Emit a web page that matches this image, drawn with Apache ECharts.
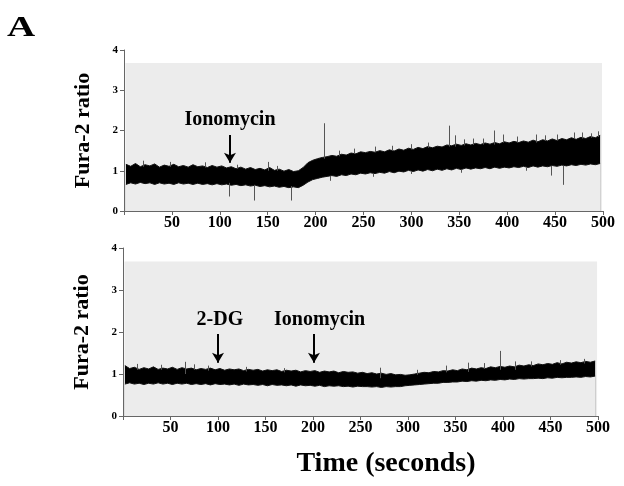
<!DOCTYPE html>
<html><head><meta charset="utf-8">
<script src="https://cdn.jsdelivr.net/npm/echarts@6/dist/echarts.min.js"></script>
<style>html,body{margin:0;padding:0;background:#fff}#c{width:624px;height:486px}</style>
</head><body><div id="c"></div>
<script>
// time grid (seconds)
var times = [2,7,12,17,22,27,32,37,42,47,52,57,62,67,72,77,82,87,92,97,102,107,112,117,122,127,132,137,142,147,152,157,162,167,172,177,182,187,192,197,202,207,212,217,222,227,232,237,242,247,252,257,262,267,272,277,282,287,292,297,302,307,312,317,322,327,332,337,342,347,352,357,362,367,372,377,382,387,392,397,402,407,412,417,422,427,432,437,442,447,452,457,462,467,472,477,482,487,492,497];
// Panel 1 (Ionomycin) upper / lower envelope of the trace
var topUpper = [1.16,1.11,1.18,1.10,1.15,1.12,1.17,1.09,1.14,1.11,1.16,1.10,1.13,1.09,1.15,1.10,1.12,1.08,1.13,1.09,1.12,1.07,1.10,1.05,1.09,1.04,1.08,1.03,1.06,1.02,1.08,1.01,1.04,0.99,1.03,0.98,1.00,1.08,1.20,1.26,1.30,1.33,1.35,1.38,1.36,1.41,1.39,1.44,1.42,1.47,1.45,1.48,1.46,1.50,1.47,1.52,1.49,1.54,1.51,1.56,1.53,1.58,1.55,1.60,1.57,1.61,1.59,1.64,1.62,1.66,1.63,1.67,1.64,1.68,1.65,1.69,1.66,1.70,1.67,1.72,1.69,1.73,1.70,1.74,1.71,1.76,1.72,1.77,1.74,1.79,1.75,1.80,1.77,1.82,1.78,1.83,1.80,1.85,1.82,1.88];
var topLower = [0.66,0.70,0.67,0.71,0.68,0.70,0.66,0.70,0.67,0.69,0.66,0.70,0.67,0.69,0.66,0.69,0.66,0.68,0.65,0.68,0.65,0.67,0.64,0.66,0.63,0.65,0.62,0.64,0.61,0.63,0.60,0.62,0.59,0.61,0.58,0.60,0.58,0.64,0.72,0.78,0.81,0.84,0.86,0.88,0.86,0.90,0.88,0.92,0.90,0.94,0.92,0.95,0.93,0.96,0.94,0.98,0.95,0.99,0.97,1.01,0.98,1.02,0.99,1.03,1.00,1.04,1.01,1.05,1.02,1.06,1.03,1.07,1.04,1.07,1.05,1.08,1.05,1.09,1.06,1.09,1.07,1.10,1.08,1.11,1.08,1.12,1.09,1.12,1.10,1.13,1.11,1.14,1.12,1.15,1.13,1.16,1.14,1.17,1.15,1.18];
// Panel 1 spikes and hairs: [time, from, to]
var topSpikes = [[151,1.0,1.22],[209,1.3,2.18],[339,1.6,2.12],[386,1.65,2.0],[346,1.6,1.88],[396,1.7,1.90],[430,1.7,1.90],[470,1.8,1.95],[110,0.7,0.36],[136,0.65,0.26],[175,0.62,0.26],[446,1.12,0.88],[459,1.13,0.65],
  [20,1.1,1.25],[48,1.1,1.22],[85,1.08,1.21],[118,1.05,1.15],[160,1.0,1.12],[225,1.36,1.50],[240,1.42,1.55],[262,1.46,1.60],[280,1.49,1.62],[300,1.53,1.66],[318,1.57,1.70],[355,1.63,1.78],[365,1.64,1.80],[375,1.65,1.80],[410,1.70,1.85],[440,1.74,1.88],[452,1.75,1.90],[478,1.80,1.95],[488,1.82,1.93],[495,1.84,1.98],
  [215,0.87,0.75],[260,0.93,0.85],[300,0.99,0.92],[352,1.03,0.95],[420,1.08,1.00]];
// Panel 2 (2-DG then Ionomycin) upper / lower envelope
var botUpper = [1.20,1.13,1.16,1.11,1.15,1.12,1.17,1.11,1.14,1.12,1.16,1.11,1.15,1.12,1.14,1.10,1.13,1.11,1.14,1.10,1.13,1.09,1.12,1.10,1.12,1.08,1.11,1.09,1.11,1.07,1.10,1.08,1.10,1.06,1.09,1.07,1.09,1.05,1.08,1.06,1.08,1.04,1.07,1.05,1.07,1.03,1.06,1.04,1.05,1.02,1.04,1.01,1.03,1.00,1.02,0.99,1.01,0.98,0.99,0.97,0.98,1.00,1.02,1.04,1.03,1.06,1.05,1.08,1.07,1.10,1.08,1.12,1.10,1.14,1.12,1.15,1.13,1.17,1.15,1.18,1.16,1.19,1.17,1.21,1.19,1.22,1.20,1.24,1.22,1.25,1.23,1.27,1.24,1.28,1.26,1.29,1.27,1.30,1.28,1.31];
var botLower = [0.76,0.79,0.76,0.78,0.75,0.78,0.76,0.79,0.76,0.78,0.75,0.78,0.76,0.78,0.75,0.77,0.75,0.77,0.74,0.77,0.75,0.76,0.74,0.76,0.73,0.76,0.74,0.75,0.73,0.75,0.72,0.75,0.73,0.74,0.72,0.74,0.71,0.74,0.72,0.73,0.71,0.73,0.70,0.72,0.71,0.72,0.70,0.71,0.69,0.71,0.70,0.70,0.69,0.70,0.68,0.70,0.69,0.70,0.70,0.72,0.73,0.74,0.75,0.76,0.77,0.78,0.78,0.80,0.80,0.81,0.81,0.83,0.82,0.84,0.83,0.85,0.84,0.86,0.85,0.87,0.86,0.88,0.87,0.89,0.88,0.89,0.89,0.90,0.89,0.91,0.90,0.92,0.91,0.92,0.92,0.93,0.92,0.94,0.93,0.95];
var botSpikes = [[65,1.0,1.29],[271,0.9,1.15],[363,1.05,1.27],[397,1.1,1.55],[413,1.1,1.30],
  [15,1.1,1.24],[40,1.1,1.22],[75,1.1,1.23],[90,1.08,1.20],[130,1.06,1.17],[170,1.04,1.14],[310,0.98,1.10],[340,1.04,1.20],[380,1.12,1.26],[430,1.18,1.30],[460,1.22,1.33],[485,1.25,1.36]];
// annotations: [label, arrow time, label time]
var topNotes = [["Ionomycin",110.6,110.6]];
var botNotes = [["2-DG",100,102],["Ionomycin",201,207]];
var yTicks = [0,1,2,3,4];
var xTicks = [50,100,150,200,250,300,350,400,450,500];

var serif = "'Liberation Serif','DejaVu Serif',serif";
var BG = '#ececec';
function pairs(a){return times.map(function(t,i){return [t,a[i]];});}

function panelSeries(idx, upper, lower, spikes, notes, arrowTop, arrowBot, labelY){
  var s = [];
  s.push({type:'line',xAxisIndex:idx,yAxisIndex:idx,data:[],silent:true,z:1,
    markArea:{silent:true,itemStyle:{color:BG},data:[[{coord:[1.5,0]},{coord:[499,3.68]}]]}});
  s.push({type:'line',xAxisIndex:idx,yAxisIndex:idx,data:pairs(upper),symbol:'none',
    lineStyle:{width:1,color:'#111'},areaStyle:{color:'#000',opacity:1,origin:'start'},z:2,silent:true});
  s.push({type:'line',xAxisIndex:idx,yAxisIndex:idx,data:pairs(lower),symbol:'none',
    lineStyle:{width:1,color:'#111'},areaStyle:{color:BG,opacity:1,origin:'start'},z:3,silent:true});
  var ml = spikes.map(function(p){return [{coord:[p[0],p[1]]},{coord:[p[0],p[2]]}];});
  notes.forEach(function(n){
    ml.push([{coord:[n[1],arrowTop],symbol:'none',lineStyle:{width:2,color:'#000'}},
             {coord:[n[1],arrowBot],symbol:'arrow',symbolSize:[9,10]}]);
  });
  s.push({type:'line',xAxisIndex:idx,yAxisIndex:idx,data:[],z:4,silent:true,
    markLine:{silent:true,symbol:'none',label:{show:false},lineStyle:{type:'solid',color:'#555',width:1},data:ml},
    markPoint:{silent:true,symbol:'circle',symbolSize:0,
      label:{show:true,position:'inside',color:'#000',fontFamily:serif,fontWeight:'bold',fontSize:20},
      data:notes.map(function(n){return {coord:[n[2],labelY],value:n[0],label:{formatter:n[0]}};})}
  });
  return s;
}

var chart = echarts.init(document.getElementById('c'));
function xAx(idx){return {type:'value',gridIndex:idx,min:0,max:500,interval:50,
  axisLine:{lineStyle:{color:'#666',width:1}},axisTick:{length:4,lineStyle:{color:'#666'}},
  splitLine:{show:false},
  axisLabel:{margin:4,color:'#000',fontFamily:serif,fontWeight:'bold',fontSize:16,
    formatter:function(v){return xTicks.indexOf(v)>=0?String(v):'';}}};}
function yAx(idx){return {type:'value',gridIndex:idx,min:0,max:4,interval:1,
  name:'Fura-2 ratio',nameLocation:'middle',nameGap:30,nameRotate:90,
  nameTextStyle:{color:'#000',fontFamily:serif,fontWeight:'bold',fontSize:22},
  axisLine:{show:true,lineStyle:{color:'#666',width:1}},axisTick:{show:true,length:4,lineStyle:{color:'#666'}},
  splitLine:{show:false},
  axisLabel:{margin:6,color:'#000',fontFamily:serif,fontWeight:'bold',fontSize:11,
    formatter:function(v){return yTicks.indexOf(v)>=0?String(v):'';}}};}

var series = [].concat(
  panelSeries(0, topUpper, topLower, topSpikes, topNotes, 1.89, 1.20, 2.26),
  panelSeries(1, botUpper, botLower, botSpikes, botNotes, 1.95, 1.27, 2.29)
);
chart.setOption({
  animation:false,
  backgroundColor:'#fff',
  graphic:[
    {type:'text',x:7,y:13,scaleX:1.3,style:{text:'A',fill:'#000',font:"bold 30px 'Liberation Serif',serif",align:'left',verticalAlign:'top'}},
    {type:'text',x:386,y:464,style:{text:'Time (seconds)',fill:'#000',font:"bold 28px 'Liberation Serif',serif",align:'center',verticalAlign:'middle'}}
  ],
  grid:[{left:124,right:21,top:50,height:161},{left:123,right:26,top:248,height:168}],
  xAxis:[xAx(0),xAx(1)],
  yAxis:[yAx(0),yAx(1)],
  series:series
});
</script></body></html>
